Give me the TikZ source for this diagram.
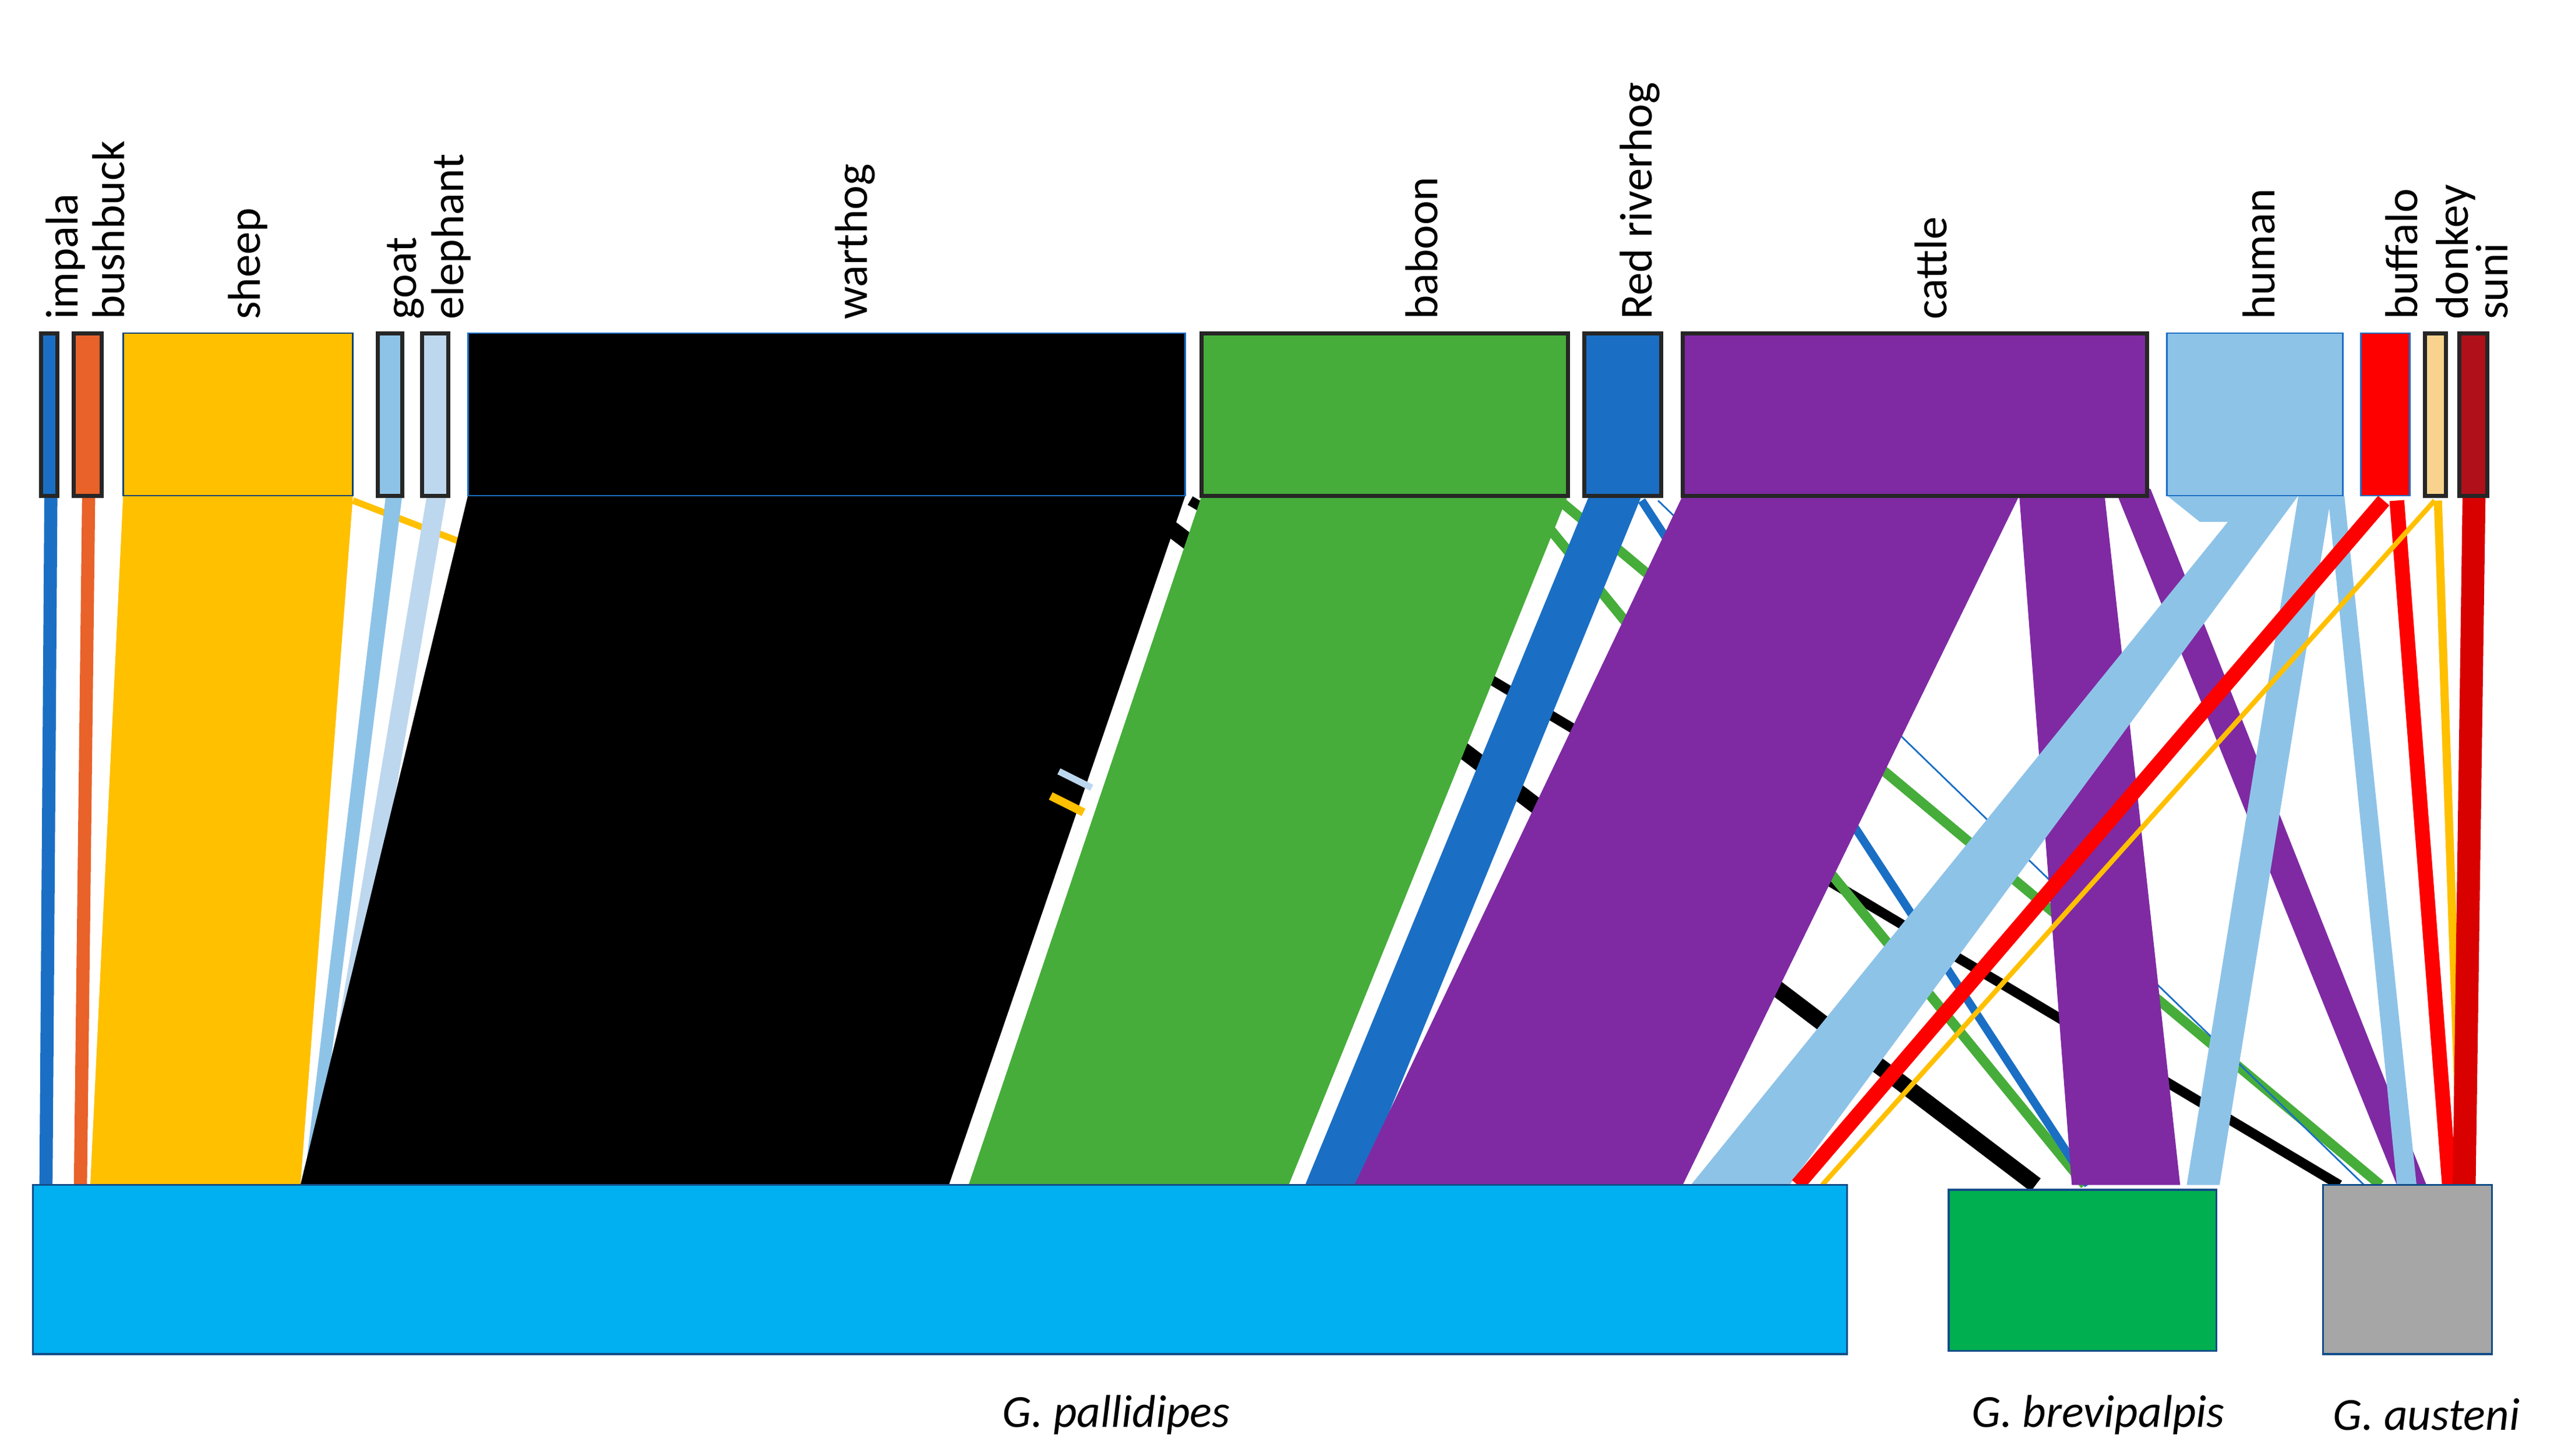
\documentclass[tikz,border=0pt]{standalone}
\usepackage{fontspec}
\setmainfont{Carlito}
\begin{document}
\begin{tikzpicture}[x=1pt,y=-1pt,
  topbox/.style={draw=black!85,line width=2.5pt},
  lab/.style={rotate=90,anchor=west,inner sep=0pt,font=\fontsize{28}{30}\selectfont},
  blab/.style={anchor=center,font=\fontsize{28}{30}\selectfont\itshape},
  rib/.style={draw=none}]
\definecolor{cyanb}{HTML}{00B0F0}
\definecolor{greenb}{HTML}{00B050}
\definecolor{greyb}{HTML}{A6A6A6}
\definecolor{sheepc}{HTML}{FFC000}
\definecolor{lblue}{HTML}{8EC3E8}
\definecolor{pblue}{HTML}{BDD7EE}
\definecolor{babc}{HTML}{46AD3A}
\definecolor{rivc}{HTML}{1A6FC4}
\definecolor{catc}{HTML}{7F2AA3}
\definecolor{bushc}{HTML}{E8622A}
\definecolor{donc}{HTML}{F9D38E}
\definecolor{sunic}{HTML}{B0101A}
\fill[white] (0,0) rectangle (1560,887);
% ribbons
\fill[rivc] (27,302) -- (35,302) -- (32,722) -- (24,722) -- cycle;
\fill[bushc] (50,302) -- (58,302) -- (53,722) -- (45,722) -- cycle;
\fill[sheepc] (75,302) -- (215,302) -- (183,722) -- (55,722) -- cycle;
\draw[sheepc,line width=4pt] (215,305) -- (280,330);
\fill[lblue] (235,302) -- (245,302) -- (192,722) -- (185,722) -- cycle;
\fill[pblue] (260,302) -- (272,302) -- (200,722) -- (190,722) -- cycle;
\fill[black] (285,302) -- (722,302) -- (578,722) -- (183,722) -- cycle;
\draw[black,line width=10pt] (700,312) -- (1240,722);
\draw[black,line width=6pt] (725,305) -- (1425,722);
\fill[babc] (732,302) -- (955,302) -- (785,722) -- (590,722) -- cycle;
\draw[babc,line width=6pt] (930,305) -- (1270,722);
\draw[babc,line width=6pt] (950,305) -- (1450,722);
\draw[sheepc,line width=5pt] (640,485) -- (660,495);
\draw[pblue,line width=4pt] (645,470) -- (665,480);
\fill[rivc] (968,302) -- (1000,302) -- (828,722) -- (795,722) -- cycle;
\draw[rivc,line width=5pt] (1000,305) -- (1272,722);
\draw[rivc,line width=1pt] (1010,305) -- (1440,722);
\fill[catc] (1025,302) -- (1230,302) -- (1025,722) -- (825,722) -- cycle;
\fill[catc] (1230,302) -- (1282,302) -- (1328,722) -- (1262,722) -- cycle;
\fill[catc] (1285,290) -- (1310,298) -- (1478,722) -- (1460,722) -- cycle;
\fill[lblue] (1370,302) -- (1400,302) -- (1090,722) -- (1030,722) -- cycle;
\fill[lblue] (1320,302) -- (1400,302) -- (1380,318) -- (1340,318) -- cycle;
\fill[lblue] (1400,302) -- (1420,302) -- (1352,722) -- (1332,722) -- cycle;
\fill[lblue] (1418,302) -- (1428,302) -- (1472,722) -- (1460,722) -- cycle;
\draw[red,line width=9pt] (1452,305) -- (1095,722);
\draw[red,line width=9pt] (1460,305) -- (1492,722);
\draw[sheepc,line width=3pt] (1483,305) -- (1110,722);
\draw[sheepc,line width=5pt] (1485,305) -- (1498,682);
\fill[red!85!black] (1500,302) -- (1514,302) -- (1508,722) -- (1494,722) -- cycle;
% top boxes
\filldraw[topbox,fill=rivc] (25,203) rectangle (35,302);
\filldraw[topbox,fill=bushc] (45,203) rectangle (62,302);
\filldraw[topbox,fill=sheepc,draw=rivc!60!black,line width=1pt] (75,203) rectangle (215,302);
\filldraw[topbox,fill=lblue] (230,203) rectangle (245,302);
\filldraw[topbox,fill=pblue] (257,203) rectangle (273,302);
\filldraw[topbox,fill=black,draw=rivc,line width=1pt] (285,203) rectangle (722,302);
\filldraw[topbox,fill=babc] (732,203) rectangle (955,302);
\filldraw[topbox,fill=rivc] (965,203) rectangle (1012,302);
\filldraw[topbox,fill=catc] (1025,203) rectangle (1308,302);
\filldraw[fill=lblue,draw=rivc,line width=1pt] (1320,203) rectangle (1427,302);
\filldraw[fill=red,draw=rivc,line width=1pt] (1438,203) rectangle (1468,302);
\filldraw[topbox,fill=donc] (1477,203) rectangle (1490,302);
\filldraw[topbox,fill=sunic] (1498,203) rectangle (1515,302);
% bottom boxes
\filldraw[fill=cyanb,draw=rivc!70!black,line width=1.2pt] (20,722) rectangle (1125,825);
\filldraw[fill=greenb,draw=rivc!70!black,line width=1.2pt] (1187,725) rectangle (1350,823);
\filldraw[fill=greyb,draw=rivc!70!black,line width=1.2pt] (1415,722) rectangle (1518,825);
% labels
\node[lab] (l1) at (40,195) {impala};
\node[lab] (l2) at (66,195) {bushbuck};
\node[lab] (l3) at (151,195) {sheep};
\node[lab] (l4) at (247,195) {goat};
\node[lab] (l5) at (275,195) {elephant};
\node[lab] (l6) at (521,195) {warthog};
\node[lab] (l7) at (866,195) {baboon};
\node[lab] (l8) at (999,195) {Red riverhog};
\node[lab] (l9) at (1176,195) {cattle};
\node[lab] (l10) at (1376,195) {human};
\node[lab] (l11) at (1463,195) {buffalo};
\node[lab] (l12) at (1496,195) {donkey};
\node[lab] (l13) at (1518,195) {suni};
\node[blab] (b1) at (680,862) {G. pallidipes};
\node[blab] (b2) at (1278,862) {G. brevipalpis};
\node[blab] (b3) at (1478,862) {G. austeni};
\end{tikzpicture}
\end{document}
